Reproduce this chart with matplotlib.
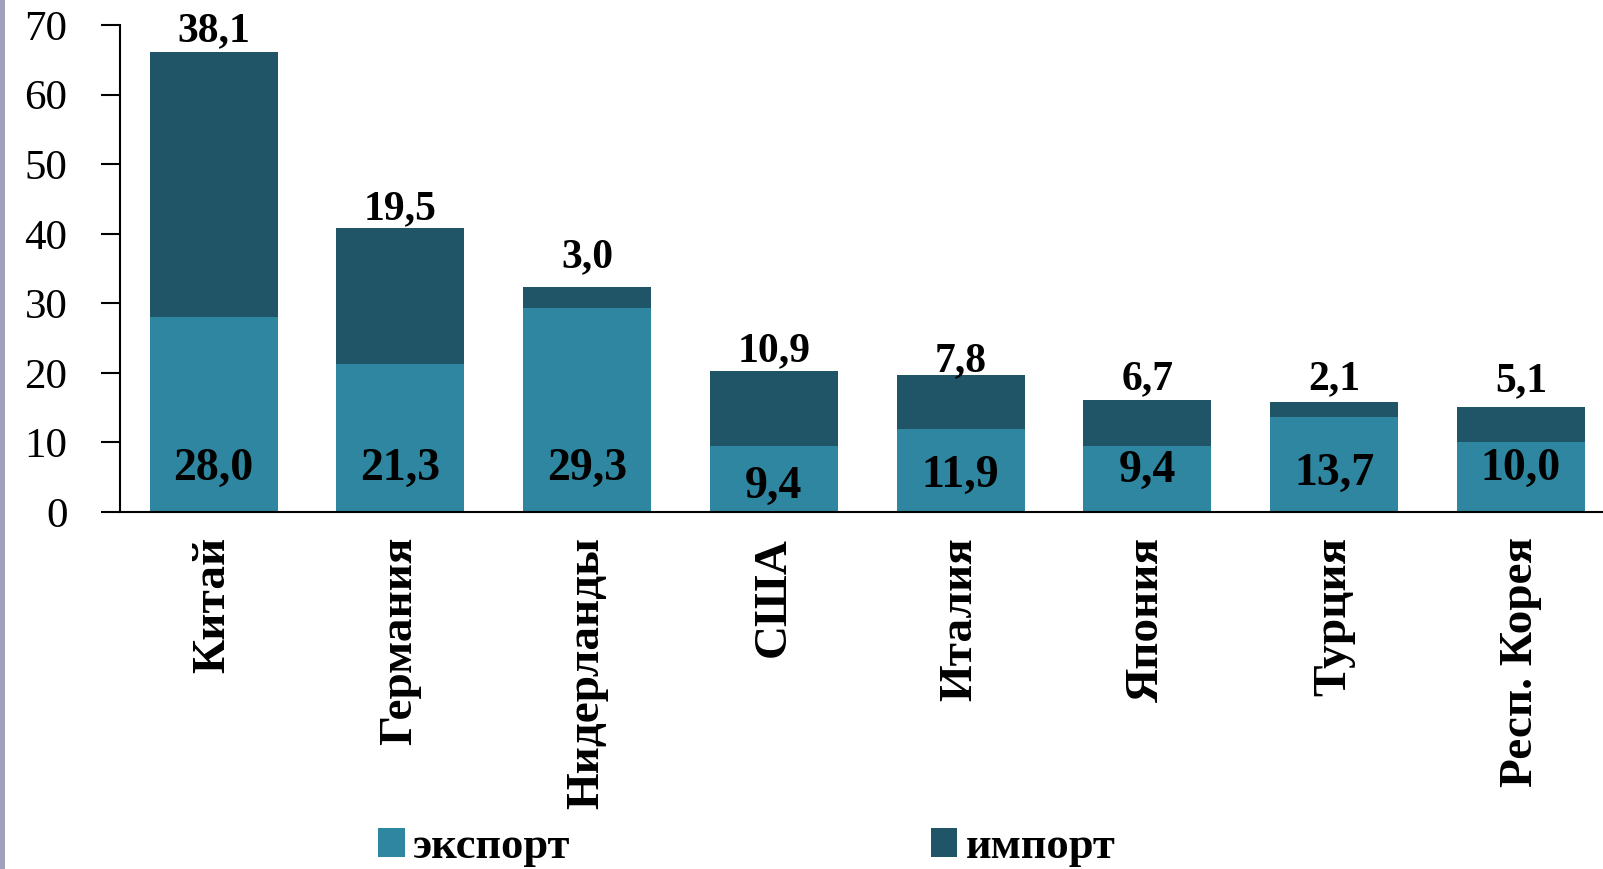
import matplotlib.pyplot as plt
from matplotlib.patches import Rectangle
import numpy as np

countries = ["Китай", "Германия", "Нидерланды", "США", "Италия", "Япония", "Турция", "Респ. Корея"]
export = [28.0, 21.3, 29.3, 9.4, 11.9, 9.4, 13.7, 10.0]
imports = [38.1, 19.5, 3.0, 10.9, 7.8, 6.7, 2.1, 5.1]

# label placement tweaks (baseline height in axis units)
export_label_y = [4.6, 4.6, 4.6, 2.0, 3.6, 4.3, 3.9, 4.6]
import_label_gap = [1.6, 1.3, 2.9, 1.3, 0.6, 1.5, 1.9, 2.3]

C_EXP = "#2F86A0"
C_IMP = "#1F5567"

plt.rcParams["font.family"] = ["Liberation Serif", "DejaVu Serif"]


def fmt(v):
    return f"{v:.1f}".replace(".", ",")


def main():
    fig = plt.figure(figsize=(16.03, 8.69), dpi=100)
    ax = fig.add_axes([0.075, 0.411, 0.925, 0.560])
    x = np.arange(len(countries))
    ax.bar(x, export, width=0.685, color=C_EXP, label="экспорт")
    ax.bar(x, imports, width=0.685, bottom=export, color=C_IMP, label="импорт")

    for i in range(len(countries)):
        total = export[i] + imports[i]
        ax.text(x[i], total + import_label_gap[i], fmt(imports[i]), ha="center",
                va="baseline", fontsize=30, fontweight="bold")
        ax.text(x[i], export_label_y[i], fmt(export[i]), ha="center", va="baseline",
                fontsize=33, fontweight="bold")

    ax.set_xlim(-0.5, 7.44)
    ax.set_ylim(0, 70)
    ax.set_yticks(range(0, 71, 10))
    ax.tick_params(axis="y", direction="out", length=14, width=1.5, pad=24, labelsize=31)
    ax.tick_params(axis="x", length=0, pad=18)
    ax.set_xticks(x)
    ax.set_xticklabels(countries, rotation=90, fontsize=34, fontweight="bold")
    for s in ["top", "right"]:
        ax.spines[s].set_visible(False)
    ax.spines["left"].set_linewidth(1.5)
    ax.spines["bottom"].set_linewidth(1.5)

    fig.legend(loc="center", bbox_to_anchor=(0.466, 0.025), ncol=2, frameon=False,
               handlelength=0.6, handleheight=0.6, handletextpad=0.2,
               columnspacing=8.1, prop={"size": 32, "weight": "bold"})

    fig.add_artist(Rectangle((0, 0), 0.003, 1, transform=fig.transFigure,
                             color="#a0a0bd", lw=0))
    fig.savefig("out.png", dpi=100)


if __name__ == "__main__":
    main()
